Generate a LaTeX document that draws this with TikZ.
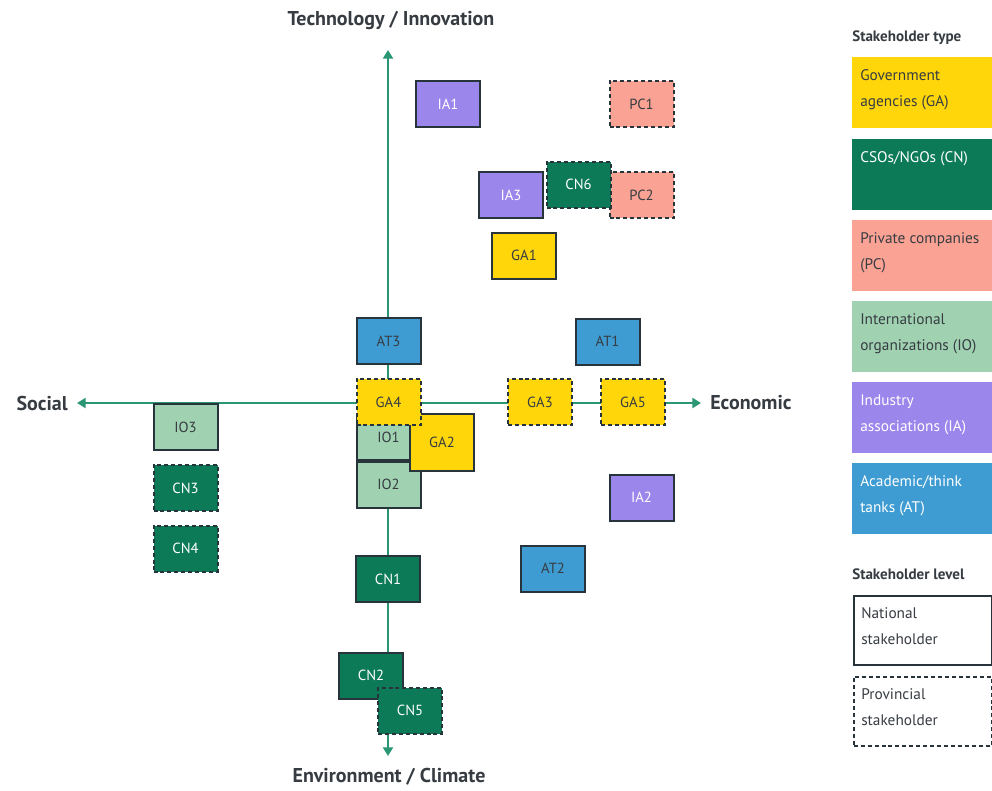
\documentclass[tikz,border=0pt]{standalone}
\usepackage{fontspec}
\setmainfont{PT Sans}
\usetikzlibrary{arrows.meta,calc}

\definecolor{ga}{RGB}{255,214,10}
\definecolor{cn}{RGB}{12,122,86}
\definecolor{pc}{RGB}{250,162,148}
\definecolor{io}{RGB}{160,210,178}
\definecolor{ia}{RGB}{155,134,236}
\definecolor{at}{RGB}{62,156,210}
\definecolor{axisc}{RGB}{42,150,115}
\definecolor{edge}{RGB}{40,52,60}
\definecolor{ink}{RGB}{55,60,66}

\begin{document}
\begin{tikzpicture}[x=0.75pt,y=-0.75pt,
  axis/.style={draw=axisc, line width=1.9pt, -{Triangle[width=7.5pt,length=6.5pt]}},
  axlabel/.style={font=\fontsize{15}{17}\selectfont\bfseries, text=ink, inner sep=0pt},
  stk/.style={draw=edge, line width=1.5pt, minimum width=48pt, minimum height=34.5pt,
    inner sep=0pt, font=\fontsize{11}{13}\selectfont, text=ink},
  prov/.style={stk, dash pattern=on 3pt off 2.2pt},
  light/.style={text=white},
  legtitle/.style={font=\fontsize{11.3}{13}\selectfont\bfseries, text=ink, inner sep=0pt, anchor=west},
  legbox/.style={minimum width=105pt, minimum height=53.25pt, inner sep=0pt, anchor=north west},
  levbox/.style={draw=edge, line width=1.2pt, fill=white, minimum width=103.5pt, minimum height=51.75pt, inner sep=0pt, anchor=north west},
  legtext/.style={font=\fontsize{11.5}{19.5}\selectfont, align=left, inner sep=0pt, anchor=north west, text=ink}
]
\useasboundingbox (0,0) rectangle (992,790);
\fill[white] (0,0) rectangle (992,790);

% axes
\coordinate (O) at (388,403);
\coordinate (Top) at (388,50);
\coordinate (Bot) at (388,756);
\coordinate (Lft) at (77,403);
\coordinate (Rgt) at (701,403);
\draw[axis] (O) -- (Top);
\draw[axis] (O) -- (Bot);
\draw[axis] (O) -- (Lft);
\draw[axis] (O) -- (Rgt);

\node[axlabel] (tech) at (391,20) {Technology / Innovation};
\node[axlabel] (env) at (389,777) {Environment / Climate};
\node[axlabel, anchor=east] (soc) at (68,403) {Social};
\node[axlabel, anchor=west] (eco) at (710,403) {Economic};

% stakeholders
\node[stk, fill=ia, light] (IA1) at (448,104) {IA1};
\node[prov, fill=pc] (PC1) at (641.5,104) {PC1};
\node[prov, fill=pc] (PC2) at (641.5,195) {PC2};
\node[stk, fill=ia, light] (IA3) at (511,195) {IA3};
\node[prov, fill=cn, light] (CN6) at (578.5,184.5) {CN6};
\node[stk, fill=ga] (GA1) at (524,255.5) {GA1};

\node[stk, fill=at] (AT3) at (388.5,341) {AT3};
\node[stk, fill=at] (AT1) at (607.5,341.5) {AT1};

\node[stk, fill=io] (IO1) at (388.5,437) {IO1};
\node[stk, fill=io] (IO2) at (388.5,484.5) {IO2};
\node[stk, fill=ga, minimum height=42.5pt] (GA2) at (442,442.5) {GA2};
\node[prov, fill=ga] (GA4) at (388.5,402) {GA4};
\node[prov, fill=ga] (GA3) at (540,402) {GA3};
\node[prov, fill=ga] (GA5) at (633,402) {GA5};

\node[stk, fill=io] (IO3) at (185.5,427) {IO3};
\node[prov, fill=cn, light] (CN3) at (185.5,488) {CN3};
\node[prov, fill=cn, light] (CN4) at (185.5,548.5) {CN4};

\node[stk, fill=ia, light] (IA2) at (641.5,497.5) {IA2};
\node[stk, fill=at] (AT2) at (553,568.5) {AT2};

\node[stk, fill=cn, light] (CN1) at (388,579) {CN1};
\node[stk, fill=cn, light] (CN2) at (371,675.5) {CN2};
\node[prov, fill=cn, light] (CN5) at (410,710.5) {CN5};

% legend: stakeholder type
\node[legtitle] (ltype) at (852,38) {Stakeholder type};
\node[legbox, fill=ga] (lgGA) at (852,57) {};
\node[legbox, fill=cn] (lgCN) at (852,139) {};
\node[legbox, fill=pc] (lgPC) at (852,220) {};
\node[legbox, fill=io] (lgIO) at (852,301) {};
\node[legbox, fill=ia] (lgIA) at (852,382) {};
\node[legbox, fill=at] (lgAT) at (852,463) {};
\node[legtext] (tGA) at ($(lgGA.north west)+(8,12)$) {Government\\agencies (GA)};
\node[legtext, text=white] (tCN) at ($(lgCN.north west)+(8,12)$) {CSOs/NGOs (CN)};
\node[legtext] (tPC) at ($(lgPC.north west)+(8,12)$) {Private companies\\(PC)};
\node[legtext] (tIO) at ($(lgIO.north west)+(8,12)$) {International\\organizations (IO)};
\node[legtext, text=white] (tIA) at ($(lgIA.north west)+(8,12)$) {Industry\\associations (IA)};
\node[legtext, text=white] (tAT) at ($(lgAT.north west)+(8,12)$) {Academic/think\\tanks (AT)};

% legend: stakeholder level
\node[legtitle] (llevel) at (852,574) {Stakeholder level};
\node[levbox] (lgNat) at (853,595) {};
\node[levbox, dash pattern=on 3pt off 2.2pt] (lgProv) at (853,676) {};
\node[legtext] (tNat) at ($(lgNat.north west)+(8,12)$) {National\\stakeholder};
\node[legtext] (tProv) at ($(lgProv.north west)+(8,12)$) {Provincial\\stakeholder};
\end{tikzpicture}
\end{document}
